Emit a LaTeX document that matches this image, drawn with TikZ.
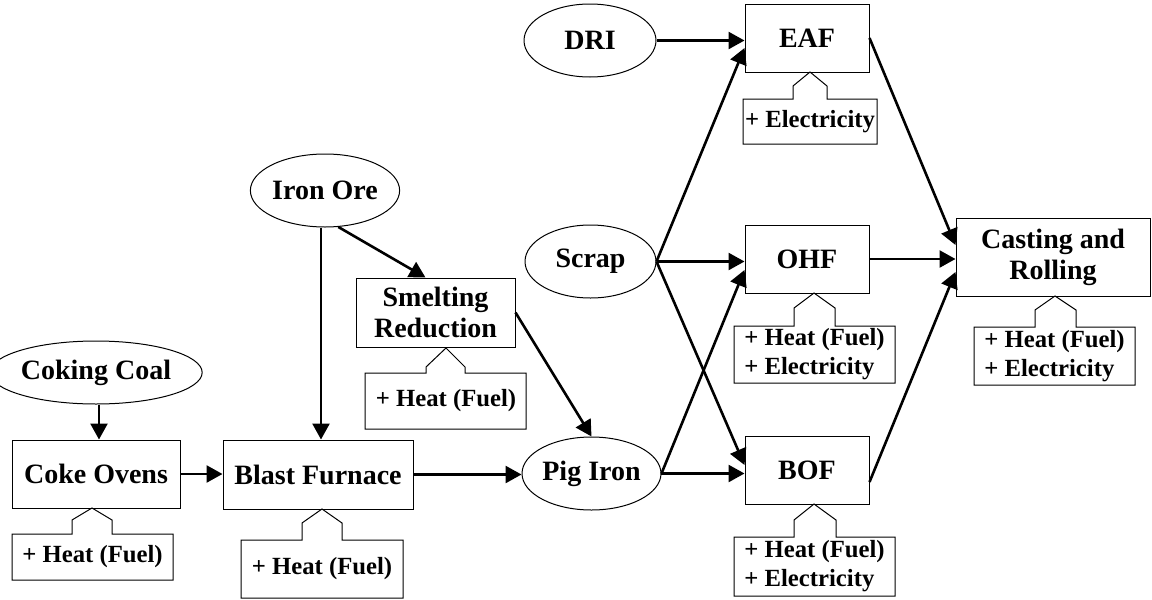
\documentclass[tikz,border=0pt]{standalone}
\usepackage{fontspec}
\setmainfont{Liberation Serif}
\usetikzlibrary{shapes.geometric,arrows.meta}
\newcommand\calloutpath[9]{\draw[cline] (#1,#2) -- (#5,#2) -- (#5,#7) -- (#8,#9) -- (#6,#7) -- (#6,#2) -- (#3,#2) -- (#3,#4) -- (#1,#4) -- cycle;}
\begin{document}
\begin{tikzpicture}[x=1pt,y=-1pt,
  lbl/.style={font=\bfseries\fontsize{28}{31}\selectfont, align=center},
  boxn/.style={lbl, draw, line width=1pt, rectangle, inner sep=0pt},
  ell/.style={lbl, draw, line width=1pt, ellipse, inner sep=0pt},
  arr/.style={line width=2.6pt, -{Triangle[length=16pt,width=17pt]}},
  ctext/.style={font=\bfseries\fontsize{24.7}{29}\selectfont, align=left, inner sep=0pt},
  cline/.style={line width=1pt, line join=miter}]
\useasboundingbox (0,0) rectangle (1152,600);
% main nodes
\node[ell, minimum width=184pt, minimum height=63pt] (coal) at (96,372.5) {Coking Coal};
\node[ell, minimum width=130pt, minimum height=73pt] (ore) at (325,190.5) {Iron Ore};
\node[ell, minimum width=132pt, minimum height=73pt] (dri) at (590,40.5) {DRI};
\node[ell, minimum width=131pt, minimum height=73pt] (scrap) at (590.5,261.5) {Scrap};
\node[ell, minimum width=131pt, minimum height=73pt] (pig) at (591.5,473.5) {Pig Iron};
\node[boxn, minimum width=168pt, minimum height=68pt] (coke) at (96,474) {Coke Ovens};
\node[boxn, minimum width=190pt, minimum height=69pt] (bf) at (318,474.5) {Blast Furnace};
\node[boxn, minimum width=159pt, minimum height=69pt] (smelt) at (435.5,312.5) {Smelting\\Reduction};
\node[boxn, minimum width=124pt, minimum height=68pt] (eaf) at (807,38) {EAF};
\node[boxn, minimum width=124pt, minimum height=68pt] (ohf) at (807,259) {OHF};
\node[boxn, minimum width=124pt, minimum height=68pt] (bof) at (807,470) {BOF};
\node[boxn, minimum width=194pt, minimum height=78pt] (cast) at (1053,257) {Casting and\\Rolling};
% callouts
\calloutpath{12}{534}{173}{580}{72}{112}{520}{92}{508}
\node[ctext] (cokeheat) at (92.5,557) {+ Heat (Fuel)};
\calloutpath{241}{540}{403}{598}{302}{342}{523}{322}{509}
\node[ctext] (bfheat) at (322,569) {+ Heat (Fuel)};
\calloutpath{365}{373}{526}{429}{426}{465}{367}{446}{348}
\node[ctext] (smeltheat) at (446,401) {+ Heat (Fuel)};
\calloutpath{743}{99}{877}{144}{793}{827}{86}{810}{72}
\node[ctext] (eafel) at (810,121.5) {+ Electricity};
\calloutpath{734}{326}{895}{383}{794}{835}{308}{814}{293}
\node[ctext] (ohfheat) at (814.5,354.5) {+ Heat (Fuel)\\+ Electricity};
\calloutpath{734}{537}{895}{596}{794}{836}{520}{814}{504}
\node[ctext] (bofheat) at (814.5,566.5) {+ Heat (Fuel)\\+ Electricity};
\calloutpath{974}{327}{1135}{385}{1035}{1076}{310}{1055}{296}
\node[ctext] (castheat) at (1054.5,356) {+ Heat (Fuel)\\+ Electricity};
% connectors
\draw[arr] ([xshift=3pt]coal.south) -- ([xshift=3pt]coke.north);
\draw[arr] (coke.east) -- (coke.east -| bf.west);
\draw[arr] ([xshift=-4pt]ore.south) -- ([xshift=3pt]bf.north);
\draw[arr] (ore.-70) -- ([xshift=-10pt]smelt.north);
\draw[arr] (smelt.east) -- (pig.north);
\draw[arr] (bf.east) -- (bf.east -| pig.west);
\draw[arr] (dri.east) -- (dri.east -| eaf.west);
\draw[arr] (scrap.east) -- ([yshift=-10pt]eaf.west);
\draw[arr] (scrap.east) -- (scrap.east -| ohf.west);
\draw[arr] (scrap.east) -- ([yshift=5pt]bof.west);
\draw[arr] (pig.east) -- ([yshift=-11pt]ohf.west);
\draw[arr] (pig.east) -- (pig.east -| bof.west);
\draw[arr] (eaf.east) -- ([yshift=12pt]cast.west);
\draw[arr] (ohf.east) -- (ohf.east -| cast.west);
\draw[arr] ([yshift=-12pt]bof.east) -- ([yshift=-15pt]cast.west);
\end{tikzpicture}
\end{document}
